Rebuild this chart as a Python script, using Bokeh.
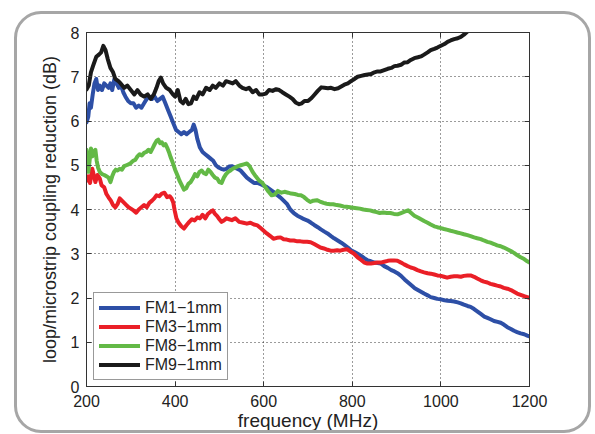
from bokeh.plotting import figure
from bokeh.models import (FixedTicker, Legend, LegendItem, LinearAxis)
from bokeh.embed import file_html
from bokeh.resources import INLINE

# ---- data ----
fm9_f = [200, 205, 210, 215, 222, 228, 233, 238, 243, 248, 254, 260, 265, 272, 277, 285, 292, 300,
         308, 315, 322, 330, 338, 345, 352, 358, 363, 368, 373, 380, 388, 395, 400, 406, 412, 418,
         424, 430, 436, 442, 448, 455, 462, 470, 478, 485, 492, 500, 508, 515, 522, 530, 537, 545,
         552, 560, 567, 575, 583, 590, 598, 605, 612, 620, 628, 635, 642, 650, 658, 665, 672, 680,
         686, 692, 700, 708, 715, 722, 730, 737, 745, 752, 760, 768, 775, 782, 790, 797, 805, 812,
         820, 828, 835, 842, 850, 857, 864, 872, 880, 888, 895, 902, 910, 917, 925, 932, 940, 948,
         955, 962, 970, 977, 985, 992, 1000, 1008, 1015, 1022, 1030, 1038, 1045, 1052, 1060]
fm9_v = [6.71, 6.8, 7.1, 7.25, 7.45, 7.5, 7.55, 7.7, 7.6, 7.4, 7.2, 7.1, 6.95, 6.9, 6.85, 6.75, 6.8, 6.7,
         6.6, 6.7, 6.6, 6.55, 6.6, 6.5, 6.6, 6.75, 6.9, 6.98, 6.85, 6.75, 6.7, 6.6, 6.55, 6.7, 6.45, 6.4,
         6.5, 6.38, 6.4, 6.55, 6.5, 6.65, 6.6, 6.75, 6.7, 6.8, 6.75, 6.85, 6.8, 6.9, 6.88, 6.85, 6.9, 6.8,
         6.75, 6.72, 6.75, 6.65, 6.7, 6.6, 6.6, 6.62, 6.7, 6.68, 6.72, 6.7, 6.65, 6.6, 6.55, 6.5, 6.42, 6.38,
         6.4, 6.45, 6.45, 6.52, 6.6, 6.68, 6.76, 6.75, 6.74, 6.75, 6.72, 6.74, 6.78, 6.82, 6.85, 6.9, 6.95, 7.0,
         7.02, 7.04, 7.05, 7.06, 7.1, 7.12, 7.12, 7.15, 7.18, 7.2, 7.24, 7.25, 7.27, 7.32, 7.33, 7.38, 7.42, 7.44,
         7.46, 7.5, 7.55, 7.6, 7.63, 7.66, 7.7, 7.74, 7.79, 7.82, 7.85, 7.87, 7.9, 7.95, 8.02]

fm1_f = [200, 204, 207, 210, 214, 218, 222, 226, 230, 235, 240, 245, 250, 254, 258, 263, 268, 273, 278,
         283, 288, 294, 300, 306, 312, 318, 324, 330, 336, 342, 348, 354, 360, 366, 372, 378, 384, 390,
         396, 402, 408, 414, 420, 426, 432, 438, 442, 446, 450, 456, 462, 468, 474, 480, 486, 492, 498,
         504, 510, 516, 522, 528, 534, 540, 548, 555, 562, 570, 578, 586, 593, 600, 608, 615, 622, 630,
         638, 645, 653, 660, 668, 676, 684, 691, 699, 707, 714, 722, 729, 737, 744, 752, 759, 767, 775,
         782, 790, 797, 805, 812, 820, 827, 835, 842, 850, 857, 864, 872, 880, 888, 895, 902, 910, 918,
         926, 934, 941, 948, 955, 962, 970, 977, 985, 992, 1000, 1008, 1015, 1022, 1030, 1038, 1045,
         1052, 1060, 1067, 1075, 1082, 1090, 1098, 1105, 1112, 1120, 1128, 1135, 1142, 1150, 1158,
         1165, 1172, 1180, 1188, 1195, 1200]
fm1_v = [5.97, 6.1, 6.4, 6.3, 6.6, 6.85, 6.95, 6.7, 6.8, 6.7, 6.85, 6.8, 6.75, 6.85, 6.7, 6.95, 6.85, 6.75, 6.8,
         6.65, 6.55, 6.45, 6.4, 6.4, 6.3, 6.35, 6.3, 6.4, 6.5, 6.55, 6.5, 6.55, 6.45, 6.5, 6.55, 6.4, 6.25, 6.1,
         5.95, 5.8, 5.75, 5.7, 5.75, 5.7, 5.75, 5.8, 5.92, 5.8, 5.6, 5.4, 5.3, 5.25, 5.2, 5.15, 5.1, 5.0, 4.95,
         4.92, 4.9, 4.92, 4.97, 4.98, 4.95, 4.92, 4.88, 4.8, 4.72, 4.66, 4.6, 4.6, 4.57, 4.54, 4.5, 4.45, 4.4, 4.33,
         4.27, 4.2, 4.12, 4.0, 3.92, 3.86, 3.82, 3.78, 3.75, 3.7, 3.65, 3.6, 3.55, 3.5, 3.46, 3.4, 3.35, 3.3, 3.25,
         3.2, 3.14, 3.08, 3.04, 3.0, 2.95, 2.9, 2.85, 2.83, 2.8, 2.79, 2.78, 2.72, 2.68, 2.63, 2.6, 2.56, 2.5, 2.42,
         2.35, 2.28, 2.22, 2.18, 2.14, 2.1, 2.06, 2.02, 2.0, 1.98, 1.97, 1.95, 1.94, 1.93, 1.92, 1.9, 1.88,
         1.85, 1.82, 1.8, 1.75, 1.7, 1.64, 1.58, 1.55, 1.52, 1.48, 1.46, 1.44, 1.4, 1.34, 1.3,
         1.26, 1.23, 1.2, 1.18, 1.15, 1.13]

fm3_f = [200, 204, 208, 213, 217, 220, 225, 230, 234, 240, 245, 250, 255, 260, 265, 270, 275, 280, 285,
         290, 295, 300, 306, 312, 318, 324, 330, 336, 342, 348, 353, 358, 364, 370, 376, 382, 388, 392,
         396, 399, 403, 408, 414, 420, 426, 432, 438, 444, 450, 456, 462, 468, 474, 480, 485, 490, 495,
         500, 505, 510, 516, 522, 528, 536, 545, 554, 562, 570, 578, 586, 593, 600, 607, 615, 622, 630,
         638, 645, 652, 660, 668, 676, 683, 690, 698, 706, 714, 721, 728, 736, 744, 751, 758, 766, 773,
         780, 789, 796, 804, 812, 820, 827, 834, 842, 850, 857, 864, 872, 880, 887, 894, 902, 910, 917,
         925, 932, 939, 947, 955, 962, 970, 977, 985, 992, 1000, 1007, 1014, 1022, 1030, 1037, 1045,
         1052, 1060, 1067, 1075, 1082, 1090, 1097, 1105, 1112, 1120, 1127, 1135, 1142, 1150, 1158,
         1165, 1172, 1180, 1188, 1195, 1200]
fm3_v = [4.65, 4.75, 4.6, 4.92, 4.75, 4.62, 4.78, 4.7, 4.55, 4.5, 4.35, 4.27, 4.2, 4.1, 4.05, 4.12, 4.25, 4.2, 4.15,
         4.1, 4.05, 4.02, 3.98, 3.93, 4.0, 4.05, 4.1, 4.05, 4.15, 4.2, 4.25, 4.32, 4.3, 4.36, 4.38, 4.28, 4.3, 4.25,
         4.15, 3.98, 3.8, 3.7, 3.62, 3.57, 3.65, 3.72, 3.78, 3.75, 3.82, 3.8, 3.88, 3.8, 3.9, 3.95, 3.98, 3.9, 3.85,
         3.78, 3.72, 3.75, 3.8, 3.78, 3.76, 3.8, 3.72, 3.7, 3.68, 3.7, 3.66, 3.64, 3.58, 3.52, 3.46, 3.4, 3.34, 3.36,
         3.37, 3.33, 3.32, 3.3, 3.3, 3.28, 3.28, 3.27, 3.27, 3.26, 3.22, 3.18, 3.14, 3.12, 3.09, 3.07, 3.07, 3.08, 3.07,
         3.09, 3.1, 3.05, 3.0, 2.92, 2.86, 2.8, 2.78, 2.78, 2.79, 2.8, 2.8, 2.82, 2.84, 2.85, 2.85, 2.84, 2.8, 2.76,
         2.72, 2.69, 2.67, 2.63, 2.6, 2.58, 2.56, 2.55, 2.53, 2.51, 2.5, 2.48, 2.46, 2.48, 2.49, 2.49, 2.48,
         2.5, 2.51, 2.51, 2.48, 2.44, 2.4, 2.37, 2.35, 2.32, 2.3, 2.28, 2.26, 2.23, 2.21, 2.18,
         2.14, 2.1, 2.07, 2.04, 2.02, 2.0]

fm8_f = [200, 202, 204, 207, 210, 213, 216, 220, 223, 226, 230, 235, 240, 245, 250, 254, 258, 262, 266,
         270, 275, 280, 285, 290, 295, 300, 305, 310, 315, 320, 325, 330, 335, 340, 345, 350, 354, 358,
         362, 366, 370, 374, 378, 382, 386, 390, 395, 400, 405, 410, 415, 420, 425, 430, 435, 440, 445,
         450, 455, 460, 465, 470, 475, 480, 485, 490, 495, 500, 505, 510, 515, 520, 525, 530, 536, 542,
         548, 555, 562, 568, 575, 582, 590, 597, 604, 611, 618, 625, 632, 640, 647, 655, 662, 670, 677,
         684, 691, 698, 705, 712, 720, 727, 735, 742, 750, 757, 765, 772, 780, 787, 795, 802, 810, 817,
         825, 832, 840, 847, 855, 862, 870, 878, 886, 894, 902, 910, 918, 926, 933, 940, 948, 955, 962,
         970, 977, 985, 992, 1000, 1007, 1015, 1022, 1030, 1037, 1045, 1052, 1060, 1067, 1075, 1082,
         1090, 1097, 1105, 1112, 1120, 1127, 1135, 1142, 1150, 1158, 1165, 1172, 1180, 1188, 1195, 1200]
fm8_v = [5.35, 5.0, 4.85, 5.1, 5.38, 5.2, 5.3, 5.35, 5.1, 4.95, 4.85, 4.8, 4.78, 4.75, 4.72, 4.62, 4.75, 4.85, 4.9,
         4.88, 4.92, 4.9, 4.98, 5.0, 5.02, 5.05, 5.1, 5.12, 5.2, 5.25, 5.22, 5.28, 5.3, 5.35, 5.3, 5.4, 5.48, 5.55,
         5.58, 5.5, 5.52, 5.45, 5.48, 5.4, 5.3, 5.18, 5.05, 4.9, 4.78, 4.65, 4.55, 4.45, 4.48, 4.58, 4.62, 4.7, 4.8,
         4.75, 4.85, 4.88, 4.82, 4.8, 4.9, 4.85, 4.78, 4.72, 4.7, 4.62, 4.6, 4.72, 4.8, 4.85, 4.88, 4.92, 4.95, 4.98,
         5.0, 5.02, 5.04, 4.98, 4.85, 4.75, 4.65, 4.6, 4.5, 4.4, 4.32, 4.34, 4.42, 4.38, 4.4, 4.38, 4.36, 4.35, 4.33,
         4.32, 4.28, 4.22, 4.17, 4.2, 4.21, 4.18, 4.15, 4.13, 4.12, 4.12, 4.1, 4.09, 4.07, 4.06, 4.05, 4.04, 4.03, 4.02,
         4.0, 3.99, 3.98, 3.96, 3.94, 3.92, 3.93, 3.92, 3.92, 3.9, 3.89, 3.92, 3.95, 3.98, 3.92, 3.86, 3.82, 3.78, 3.74,
         3.7, 3.66, 3.62, 3.6, 3.58, 3.56, 3.54, 3.52, 3.5, 3.48, 3.46, 3.44, 3.42, 3.4, 3.37, 3.35,
         3.33, 3.3, 3.27, 3.25, 3.22, 3.19, 3.17, 3.14, 3.1, 3.06, 3.02, 2.97, 2.92, 2.88, 2.83, 2.8]

series_names = ["FM1\u22121mm", "FM3\u22121mm", "FM8\u22121mm", "FM9\u22121mm"]
series_colors = ["#2d4fa6", "#ea1f27", "#63b946", "#1a1a1a"]
x_ticks = [200, 400, 600, 800, 1000, 1200]
y_ticks = [0, 1, 2, 3, 4, 5, 6, 7, 8]

FONT = "Liberation Sans"

# The figure sits inside a rounded grey panel (CSS border on the figure's element).
p = figure(width=577, height=422, x_range=(200, 1200), y_range=(0, 8),
           output_backend="svg", toolbar_location=None,
           min_border_left=69, min_border_right=65, min_border_top=18, min_border_bottom=50,
           x_axis_label="frequency (MHz)",
           y_axis_label="loop/microstrip coupling reduction (dB)")
p.margin = (11, 4, 1, 14)
p.styles = {"border": "3px solid #a6a6a6", "border-radius": "27px", "background-color": "white"}
p.background_fill_color = "white"
p.border_fill_color = None
p.border_fill_alpha = 0
p.outline_line_color = "#333333"
p.outline_line_width = 1

for ax, ticks in ((p.xaxis[0], x_ticks), (p.yaxis[0], y_ticks)):
    ax.ticker = FixedTicker(ticks=ticks)
    ax.major_tick_in = 5
    ax.major_tick_out = 0
    ax.minor_tick_in = 0
    ax.minor_tick_out = 0
    ax.axis_line_color = "#333333"
    ax.major_tick_line_color = "#333333"
    ax.major_label_text_font = FONT
    ax.major_label_text_font_size = "16px"
    ax.major_label_text_color = "#222222"
    ax.axis_label_text_font = FONT
    ax.axis_label_text_font_style = "normal"
    ax.axis_label_text_color = "#222222"
p.xaxis.axis_label_text_font_size = "19px"
p.yaxis.axis_label_text_font_size = "18px"
p.xaxis.major_label_standoff = 8
p.xaxis.axis_label_standoff = 0
p.yaxis.major_label_standoff = 7
p.yaxis.axis_label_standoff = 8

# mirrored ticks on top/right like a boxed MATLAB axes
for loc, ticks in (("above", x_ticks), ("right", y_ticks)):
    a = LinearAxis(ticker=FixedTicker(ticks=ticks), major_tick_in=5, major_tick_out=0,
                   minor_tick_in=0, minor_tick_out=0, axis_line_color="#333333",
                   major_tick_line_color="#333333", major_label_text_color=None,
                   major_label_text_font_size="1px")
    p.add_layout(a, loc)

p.xgrid.ticker = FixedTicker(ticks=x_ticks)
p.ygrid.ticker = FixedTicker(ticks=y_ticks)
for g in (p.xgrid[0], p.ygrid[0]):
    g.grid_line_color = "#222222"
    g.grid_line_dash = "1 3"
    g.grid_line_width = 1
    g.grid_line_alpha = 0.9

data = [(fm1_f, fm1_v), (fm3_f, fm3_v), (fm8_f, fm8_v), (fm9_f, fm9_v)]
renderers = []
for (fx, fy), color in zip(data, series_colors):
    r = p.line(fx, fy, line_color=color, line_width=4, line_join="round", line_cap="round")
    renderers.append(r)

legend = Legend(items=[LegendItem(label=n, renderers=[r]) for n, r in zip(series_names, renderers)],
                location=(7, 6), padding=5, spacing=0, margin=0,
                glyph_width=41, glyph_height=19, label_height=19, label_standoff=5,
                label_text_font=FONT, label_text_font_size="16px", label_text_color="#222222",
                border_line_color="#333333", border_line_width=1,
                background_fill_color="white", background_fill_alpha=1)
p.add_layout(legend, "center")

open("out.html", "w").write(file_html(p, INLINE))
